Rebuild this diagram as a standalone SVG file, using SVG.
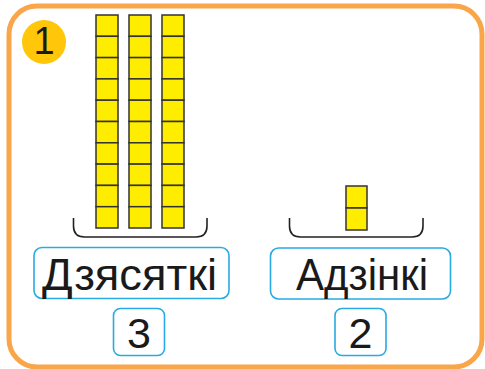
<svg xmlns="http://www.w3.org/2000/svg" width="485" height="369" viewBox="0 0 485 369">
<defs>
<style>
.frame{fill:none;stroke:#F9A64A;stroke-width:5}
.cell{fill:#FFED00;stroke:#333;stroke-width:1.5}
.br{fill:none;stroke:#222;stroke-width:1.6}
.lb{fill:#fff;stroke:#29AAE2;stroke-width:1.6}
.t{font-family:"Liberation Sans",Arial,sans-serif;fill:#1a1a1a}
</style>
</defs>
<rect class="frame" x="9" y="6" width="473" height="361" rx="28"/>
<g id="badge">
<circle cx="44" cy="42" r="22" fill="#FFC60A"/>
<text class="t" x="44" y="54" font-size="38" text-anchor="middle">1</text>
</g>
<g id="tens">
<g id="rod1">
<rect class="cell" x="96" y="15" width="22" height="21.3"/><rect class="cell" x="96" y="36.3" width="22" height="21.3"/><rect class="cell" x="96" y="57.6" width="22" height="21.3"/><rect class="cell" x="96" y="78.9" width="22" height="21.3"/><rect class="cell" x="96" y="100.2" width="22" height="21.3"/><rect class="cell" x="96" y="121.5" width="22" height="21.3"/><rect class="cell" x="96" y="142.8" width="22" height="21.3"/><rect class="cell" x="96" y="164.1" width="22" height="21.3"/><rect class="cell" x="96" y="185.4" width="22" height="21.3"/><rect class="cell" x="96" y="206.7" width="22" height="21.3"/>
</g>
<g id="rod2">
<rect class="cell" x="129" y="15" width="22" height="21.3"/><rect class="cell" x="129" y="36.3" width="22" height="21.3"/><rect class="cell" x="129" y="57.6" width="22" height="21.3"/><rect class="cell" x="129" y="78.9" width="22" height="21.3"/><rect class="cell" x="129" y="100.2" width="22" height="21.3"/><rect class="cell" x="129" y="121.5" width="22" height="21.3"/><rect class="cell" x="129" y="142.8" width="22" height="21.3"/><rect class="cell" x="129" y="164.1" width="22" height="21.3"/><rect class="cell" x="129" y="185.4" width="22" height="21.3"/><rect class="cell" x="129" y="206.7" width="22" height="21.3"/>
</g>
<g id="rod3">
<rect class="cell" x="162" y="15" width="22" height="21.3"/><rect class="cell" x="162" y="36.3" width="22" height="21.3"/><rect class="cell" x="162" y="57.6" width="22" height="21.3"/><rect class="cell" x="162" y="78.9" width="22" height="21.3"/><rect class="cell" x="162" y="100.2" width="22" height="21.3"/><rect class="cell" x="162" y="121.5" width="22" height="21.3"/><rect class="cell" x="162" y="142.8" width="22" height="21.3"/><rect class="cell" x="162" y="164.1" width="22" height="21.3"/><rect class="cell" x="162" y="185.4" width="22" height="21.3"/><rect class="cell" x="162" y="206.7" width="22" height="21.3"/>
</g>
</g>
<g id="units">
<rect class="cell" x="346" y="186" width="21" height="22"/>
<rect class="cell" x="346" y="208" width="21" height="22"/>
</g>
<g id="brackets">
<path class="br" d="M73.5,218 V226 Q73.5,237 84.5,237 H196 Q207,237 207,226 V218"/>
<path class="br" d="M289.5,218 V226 Q289.5,237 300.5,237 H412 Q423,237 423,226 V218"/>
</g>
<g id="label-tens">
<rect class="lb" x="34" y="247.5" width="195" height="51" rx="8"/>
<text class="t" x="42" y="290" font-size="45" textLength="175" lengthAdjust="spacingAndGlyphs">Дзясяткі</text>
</g>
<g id="label-units">
<rect class="lb" x="270.5" y="248" width="180" height="51" rx="8"/>
<text class="t" x="296" y="290" font-size="45" textLength="132" lengthAdjust="spacingAndGlyphs">Адзінкі</text>
</g>
<g id="count-tens">
<rect class="lb" x="113.5" y="308.5" width="51" height="47" rx="7"/>
<text class="t" x="139" y="348" font-size="43" text-anchor="middle">3</text>
</g>
<g id="count-units">
<rect class="lb" x="335" y="308.5" width="51" height="47" rx="7"/>
<text class="t" x="360.5" y="348" font-size="43" text-anchor="middle">2</text>
</g>
</svg>
